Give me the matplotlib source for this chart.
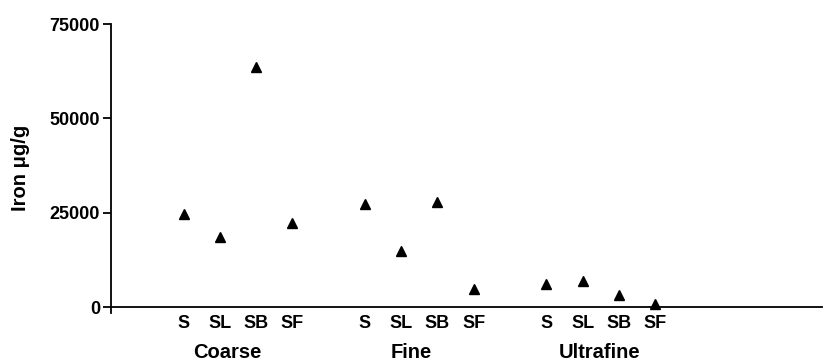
import matplotlib
matplotlib.use("Agg")
import matplotlib.pyplot as plt

plt.rcParams['font.family'] = ['Liberation Sans', 'DejaVu Sans']

groups = ["Coarse", "Fine", "Ultrafine"]
sites = ["S", "SL", "SB", "SF"]
coarse = [24800, 18500, 63600, 22400]
fine = [27400, 14950, 27800, 4750]
ultrafine = [6200, 6900, 3200, 1000]
values = [coarse, fine, ultrafine]
yticks = [0, 25000, 50000, 75000]

fig = plt.figure(figsize=(8.31, 3.64), dpi=100)
ax = fig.add_axes([111/831, 1-313/364, (822-111)/831, (313-24)/364])

positions = []
labels = []
for gi, vals in enumerate(values):
    xs = [2 + 5*gi + i for i in range(len(sites))]
    ax.plot(xs, vals, linestyle='none', marker='^', color='black', markersize=6.5)
    positions += xs
    labels += sites

ax.set_xlim(0, 19.6)
ax.set_ylim(-1500, 75000)
ax.spines['bottom'].set_position(('data', 0))
ax.spines['top'].set_visible(False)
ax.spines['right'].set_visible(False)
ax.spines['left'].set_bounds(-1500, 75000)
for s in ['left', 'bottom']:
    ax.spines[s].set_linewidth(1.3)

ax.set_yticks(yticks)
ax.set_yticklabels([str(t) for t in yticks], fontsize=13, fontweight='bold')
ax.tick_params(axis='y', direction='out', length=5.5, width=1.3, pad=2.5)

ax.set_xticks(positions)
ax.set_xticklabels(labels, fontsize=13, fontweight='bold')
ax.tick_params(axis='x', length=0, pad=5.5)

for g, c in zip(groups, [3.2, 8.28, 13.47]):
    xpix = ax.transData.transform((c, 0))[0]
    fig.text(xpix/831, 1-353/364, g, ha='center', va='center',
             fontsize=14.5, fontweight='bold')

fig.text(20/831, 1-168/364, "Iron μg/g", rotation=90, ha='center', va='center',
         fontsize=14.5, fontweight='bold')

fig.savefig("out.png", dpi=100)
